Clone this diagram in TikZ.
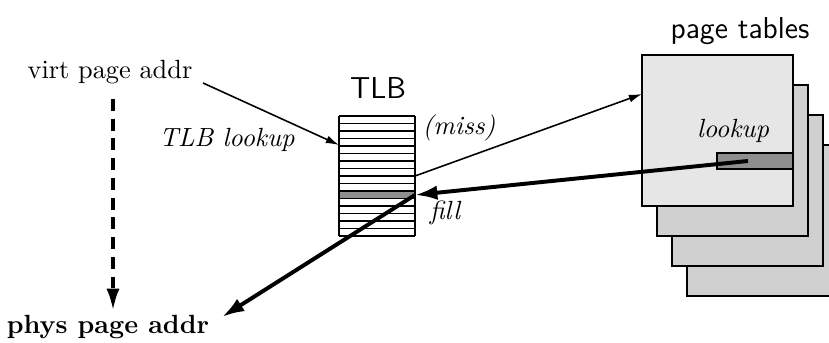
\documentclass[tikz,border=0pt]{standalone}
\usetikzlibrary{arrows.meta}
\definecolor{pagefront}{HTML}{E6E6E6}
\definecolor{pageback}{HTML}{D0D0D0}
\definecolor{rowdark}{HTML}{8E8E8E}
\begin{document}
\begin{tikzpicture}[x=0.38pt,y=-0.38pt,
  lbl/.style={inner sep=0pt,font=\fontsize{10}{12}\selectfont},
  ilbl/.style={lbl,font=\fontsize{10}{12}\selectfont\itshape},
  title/.style={inner sep=0pt,font=\fontsize{11.5}{14}\selectfont\sffamily},
  thinarrow/.style={line width=0.6pt,-{Latex[length=5pt,width=3pt]}},
  thickarrow/.style={line width=1.5pt,-{Latex[length=8.5pt,width=5.5pt]}},
  dasharrow/.style={line width=1.5pt,dash pattern=on 4.5pt off 3pt,-{Latex[length=8.5pt,width=5pt]}},
  pagebox/.style={draw,line width=0.45pt}]
\useasboundingbox (0,0) rectangle (829,343);
\clip (0,0) rectangle (829,343);

% page tables: stack drawn back to front
\foreach \k in {3,2,1}{
  \filldraw[pagebox,fill=pageback] (642+15*\k,55+30*\k) rectangle (793+15*\k,206+30*\k);
}
\filldraw[pagebox,fill=pagefront] (642,55) rectangle (793,206);
\node[pagebox,fill=rowdark,inner sep=0pt,minimum width=76*0.38pt,minimum height=16*0.38pt]
  (ptrow) at (755,161) {};
\node[ilbl] (lookup) at (733,131) {lookup};
\coordinate (ptin) at (642,94);
\coordinate (ptsrc) at (748,161);
\node[title] (pt) at (740,31) {page tables};

% TLB: 16 entries, entry 10 shaded
\fill[rowdark] (339,191) rectangle (415,198.5);
\foreach \i in {0,...,16}{
  \draw[line width=0.45pt] (339,116+7.5*\i) -- (415,116+7.5*\i);
}
\draw[line width=0.45pt] (339,116) -- (339,236) (415,116) -- (415,236);
\coordinate (tlbin) at (339,145);
\coordinate (tlbmiss) at (415,176);
\coordinate (tlbfill) at (415,195);
\node[title] (tlb) at (378,88) {TLB};
\node[ilbl] (miss) at (459,128) {(miss)};
\node[ilbl] (fill) at (445,213) {fill};

% addresses
\node[lbl] (virt) at (110,72) {virt page addr};
\node[lbl,font=\fontsize{10}{12}\selectfont\bfseries] (phys) at (108,327) {phys page addr};
\node[ilbl] (tlblookup) at (227,140) {TLB lookup};

% connectors
\draw[thinarrow] (203,83) -- (tlbin);
\draw[thinarrow] (tlbmiss) -- (ptin);
\draw[thickarrow] (ptsrc) -- (tlbfill);
\draw[thickarrow] (tlbfill) -- (222,317);
\draw[dasharrow] (113,99) -- (113,311);
\end{tikzpicture}
\end{document}
